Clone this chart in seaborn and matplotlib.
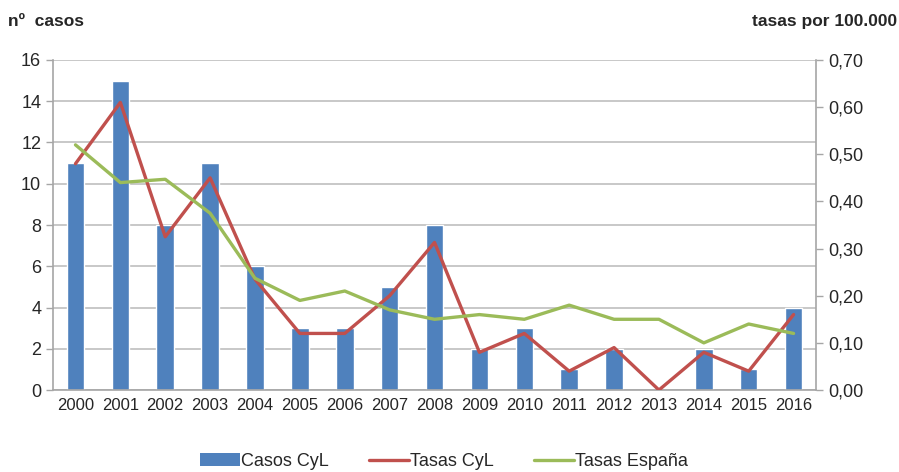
import matplotlib
matplotlib.use("Agg")
import matplotlib.pyplot as plt
from matplotlib.ticker import FuncFormatter, FixedLocator
from matplotlib.patches import Patch
from matplotlib.lines import Line2D
import seaborn as sns
import pandas as pd
import numpy as np

years = ["2000", "2001", "2002", "2003", "2004", "2005", "2006", "2007", "2008",
         "2009", "2010", "2011", "2012", "2013", "2014", "2015", "2016"]
casos_cyl = [11, 15, 8, 11, 6, 3, 3, 5, 8, 2, 3, 1, 2, 0, 2, 1, 4]
tasas_cyl = [0.48, 0.61, 0.325, 0.45, 0.235, 0.12, 0.12, 0.20, 0.313, 0.08,
             0.12, 0.04, 0.09, 0.00, 0.08, 0.04, 0.16]
tasas_esp = [0.52, 0.44, 0.447, 0.375, 0.237, 0.19, 0.21, 0.17, 0.15, 0.16,
             0.15, 0.18, 0.15, 0.15, 0.10, 0.14, 0.12]

BLUE = "#4F81BD"
RED = "#C0504D"
GREEN = "#9BBB59"
GRAY = "#A6A6A6"

sns.set_style("white")
plt.rcParams["font.family"] = ["Liberation Sans", "DejaVu Sans"]

df = pd.DataFrame({"year": years, "pos": np.arange(len(years)),
                   "casos": casos_cyl, "tcyl": tasas_cyl, "tesp": tasas_esp})

fig = plt.figure(figsize=(8.99, 4.72), dpi=100)
ax = fig.add_axes([0.059, 0.1737, 0.8487, 0.6992])

sns.barplot(data=df, x="pos", y="casos", color=BLUE, width=0.39,
            saturation=1, ax=ax, zorder=2)
ax.set_xlim(-0.5, len(years) - 0.5)
ax.set_ylim(0, 16)
ax.set_yticks(np.arange(0, 17, 2))
ax.set_xticks(np.arange(len(years)))
ax.set_xticklabels(years)
ax.xaxis.set_minor_locator(FixedLocator(np.arange(-0.5, len(years), 2)))
ax.tick_params(axis="x", which="major", length=0, labelsize=12, pad=6)
ax.tick_params(axis="x", which="minor", length=5, color=GRAY, width=1, direction="out")
ax.tick_params(axis="y", length=5, color=GRAY, width=1, direction="out", labelsize=13, left=True)
ax.yaxis.grid(True, color="#BFBFBF", linewidth=1.2, zorder=0)
ax.set_axisbelow(True)
ax.set_xlabel("")
ax.set_ylabel("")
for s in ["top", "right"]:
    ax.spines[s].set_visible(False)
for s in ["left", "bottom"]:
    ax.spines[s].set_color(GRAY)
    ax.spines[s].set_linewidth(1.2)

ax2 = ax.twinx()
sns.lineplot(data=df, x="pos", y="tcyl", color=RED, linewidth=2.4, ax=ax2, zorder=3)
sns.lineplot(data=df, x="pos", y="tesp", color=GREEN, linewidth=2.4, ax=ax2, zorder=4)
ax2.set_ylim(0, 0.7)
ax2.set_yticks(np.arange(0, 0.71, 0.1))
ax2.yaxis.set_major_formatter(FuncFormatter(lambda v, p: f"{v:.2f}".replace(".", ",")))
ax2.tick_params(axis="y", length=5, color=GRAY, width=1, direction="out", labelsize=13, right=True)
ax2.set_xlabel("")
ax2.set_ylabel("")
for s in ["top", "left", "bottom"]:
    ax2.spines[s].set_visible(False)
ax2.spines["right"].set_color(GRAY)
ax2.spines["right"].set_linewidth(1.2)
ax.set_xlim(-0.5, len(years) - 0.5)

fig.text(0.009, 0.955, "nº  casos", fontsize=12.5, fontweight="bold", ha="left", va="center")
fig.text(0.998, 0.955, "tasas por 100.000", fontsize=12.5, fontweight="bold", ha="right", va="center")

handles = [Patch(facecolor=BLUE, edgecolor="none"),
           Line2D([], [], color=RED, linewidth=2.4),
           Line2D([], [], color=GREEN, linewidth=2.4)]
fig.legend(handles, ["Casos CyL", "Tasas CyL", "Tasas España"], loc="center",
           bbox_to_anchor=(0.494, 0.022), ncol=3, frameon=False, fontsize=13,
           handlelength=2.2, handletextpad=0.1, columnspacing=2.2, handleheight=0.7)

fig.savefig("out.png", dpi=100)
